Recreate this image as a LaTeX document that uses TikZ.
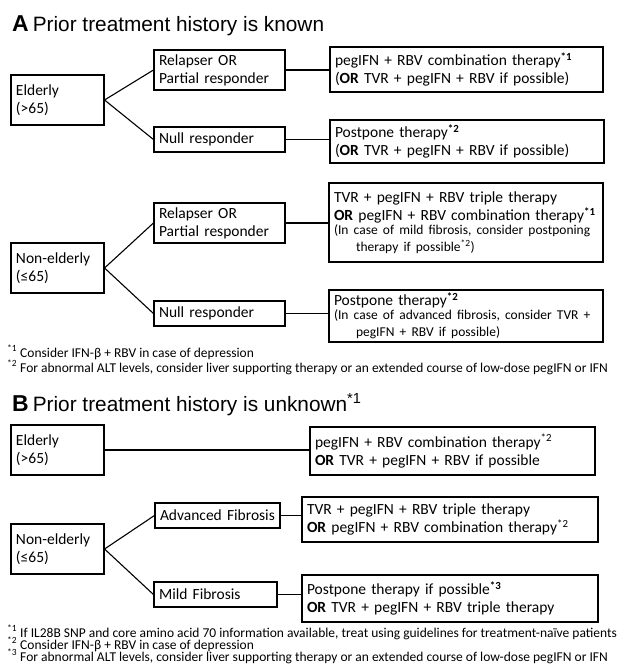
\documentclass[tikz,border=0pt]{standalone}
\usepackage{fontspec}
\setmainfont{Carlito}
\newfontfamily\headfont{Liberation Sans}
\usetikzlibrary{calc}
\hyphenpenalty=10000
\newcommand{\boxfont}{\fontsize{15.5}{18}\selectfont}
\newcommand{\smallbox}{\fontsize{13.5}{15}\selectfont}
\newcommand{\fn}[1]{\textsuperscript{#1}}
\newcommand{\bfn}[1]{\textsuperscript{\textbf{#1}}}

\begin{document}
\begin{tikzpicture}[x=1pt,y=-1pt,
  box/.style={draw,line width=1.1pt,align=left,inner xsep=5pt,inner ysep=2pt,font=\boxfont},
  link/.style={line width=1.1pt},
  note/.style={anchor=base west,inner sep=0pt,text height=9pt,text depth=2pt,font=\fontsize{13.5}{15}\selectfont},
  heading/.style={anchor=base west,inner sep=0pt,font=\headfont\fontsize{20.8}{24}\selectfont}]
  \useasboundingbox (0,0) rectangle (619,666);

  % A: history known
  \node[heading] (ttlA) at (12,32) {{\fontsize{23}{24}\selectfont\textbf{A}}\hspace{4pt}Prior treatment history is known};

  \node[box,text width=83pt,minimum height=50pt] (eldA) at (57.5,100) {Elderly\\(>65)};
  \node[box,text width=121pt,minimum height=40pt] (relA) at (219.5,70) {Relapser OR\\Partial responder};
  \node[box,text width=121pt,minimum height=25pt] (nulA) at (219.5,139.5) {Null responder};
  \node[box,text width=263pt,minimum height=45pt] (resA1) at (466.5,69.5)
       {pegIFN + RBV combination therapy\bfn{*1}\\(\textbf{OR} TVR + pegIFN + RBV if possible)};
  \node[box,text width=264pt,minimum height=43pt] (resA2) at (467,141.5)
       {Postpone therapy\bfn{*2}\\(\textbf{OR} TVR + pegIFN + RBV if possible)};

  \node[box,text width=83pt,minimum height=50pt] (nonA) at (57.5,268) {Non-elderly\\(≤65)};
  \node[box,text width=121pt,minimum height=40pt] (relN) at (219.5,223) {Relapser OR\\Partial responder};
  \node[box,text width=121pt,minimum height=25pt] (nulN) at (219.5,313.5) {Null responder};
  \node[box,text width=264pt,minimum height=79pt] (resA3) at (466,222.5)
       {TVR + pegIFN + RBV triple therapy\\\textbf{OR} pegIFN + RBV combination therapy\bfn{*1}\\[-1pt]
        \smallbox\mbox{(In case of mild fibrosis, consider postponing}\\[-1pt]
        \smallbox\mbox{\hspace*{22pt}therapy if possible\fn{*2})}};
  \node[box,text width=264pt,minimum height=52pt] (resA4) at (466,316)
       {Postpone therapy\bfn{*2}\\[-1pt]
        \smallbox\mbox{(In case of advanced fibrosis, consider TVR +}\\[-1pt]
        \smallbox\mbox{\hspace*{22pt}pegIFN + RBV if possible)}};

  \draw[link] (eldA.east) -- (relA.west);
  \draw[link] (eldA.east) -- (nulA.west);
  \draw[link] (relA.east) -- (relA.east -| resA1.west);
  \draw[link] (nulA.east) -- (nulA.east -| resA2.west);
  \draw[link] (nonA.east) -- (relN.west);
  \draw[link] (nonA.east) -- (nulN.west);
  \draw[link] (relN.east) -- (relN.east -| resA3.west);
  \draw[link] (nulN.east) -- (nulN.east -| resA4.west);

  \node[note] (fnA1) at (7,357) {\fn{*1} Consider IFN-β + RBV in case of depression};
  \node[note] (fnA2) at (7,372) {\fn{*2} For abnormal ALT levels, consider liver supporting therapy or an extended course of low-dose pegIFN or IFN};

  % B: history unknown
  \node[heading] (ttlB) at (12,411) {{\fontsize{23}{24}\selectfont\textbf{B}}\hspace{4pt}Prior treatment history is unknown\textsuperscript{*1}};

  \node[box,text width=83pt,minimum height=50pt] (eldB) at (57.5,450) {Elderly\\(>65)};
  \node[box,text width=275pt,minimum height=48pt] (resB1) at (452.5,451)
       {pegIFN + RBV combination therapy\fn{*2}\\\textbf{OR} TVR + pegIFN + RBV if possible};

  \node[box,text width=83pt,minimum height=50pt] (nonB) at (57.5,549) {Non-elderly\\(≤65)};
  \node[box,text width=115pt,minimum height=25pt] (advB) at (217.5,515.5) {Advanced Fibrosis};
  \node[box,text width=113pt,minimum height=25pt] (mldB) at (215.5,594.5) {Mild Fibrosis};
  \node[box,text width=286pt,minimum height=45pt] (resB2) at (450,519.5)
       {TVR + pegIFN + RBV triple therapy\\\textbf{OR} pegIFN + RBV combination therapy\fn{*2}};
  \node[box,text width=286pt,minimum height=47pt] (resB3) at (450,598.5)
       {Postpone therapy if possible\bfn{*3}\\\textbf{OR} TVR + pegIFN + RBV triple therapy};

  \draw[link] (eldB.east) -- (eldB.east -| resB1.west);
  \draw[link] (nonB.east) -- (advB.west);
  \draw[link] (nonB.east) -- (mldB.west);
  \draw[link] (advB.east) -- (advB.east -| resB2.west);
  \draw[link] (mldB.east) -- (mldB.east -| resB3.west);

  \node[note] (fnB1) at (7,637) {\fn{*1} If IL28B SNP and core amino acid 70 information available, treat using guidelines for treatment-naïve patients};
  \node[note] (fnB2) at (7,649) {\fn{*2} Consider IFN-β + RBV in case of depression};
  \node[note] (fnB3) at (7,661) {\fn{*3} For abnormal ALT levels, consider liver supporting therapy or an extended course of low-dose pegIFN or IFN};
\end{tikzpicture}
\end{document}
